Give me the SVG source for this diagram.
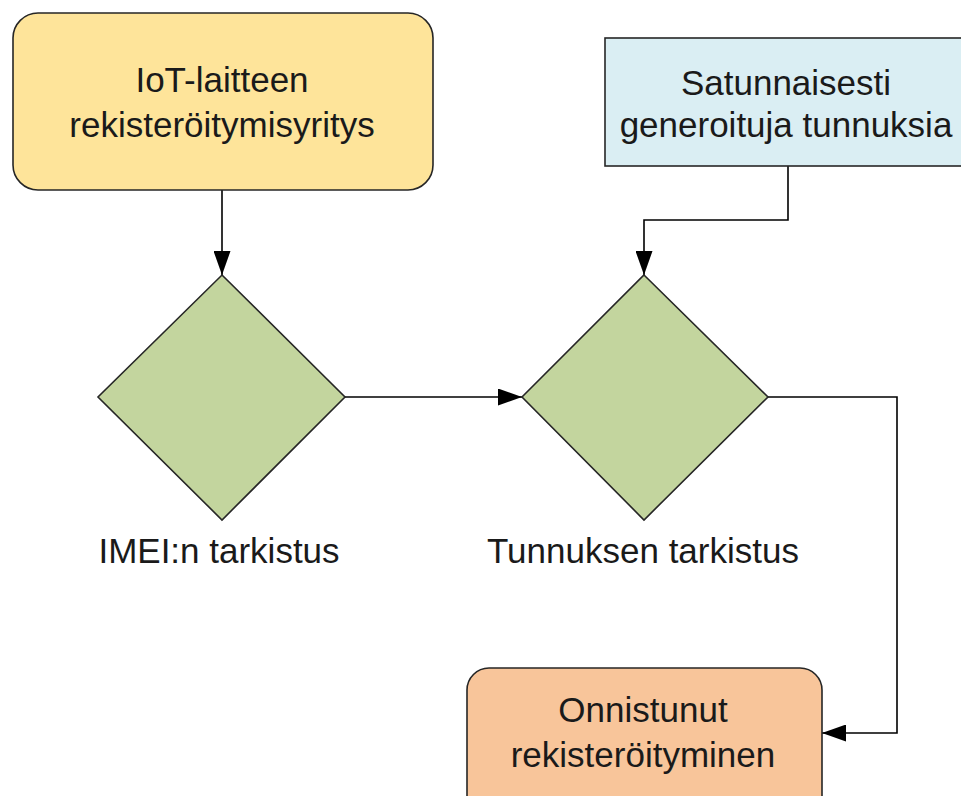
<svg xmlns="http://www.w3.org/2000/svg" width="961" height="796" viewBox="0 0 961 796">
  <defs>
    <style>
      .lbl { font-family: "Liberation Sans", Arial, sans-serif; font-size: 35px; fill: #1a1a1a; text-anchor: middle; }
      .shape { stroke: #262626; stroke-width: 1.6; }
      .conn { fill: none; stroke: #000; stroke-width: 1.6; }
    </style>
    <marker id="arrow" markerUnits="userSpaceOnUse" markerWidth="24" markerHeight="17" refX="24" refY="8.5" orient="auto">
      <path d="M0,0 L24,8.5 L0,17 z" fill="#000"/>
    </marker>
  </defs>
  <rect width="961" height="796" fill="#fff"/>

  <g id="connectors">
    <path class="conn" d="M222,190 V275" marker-end="url(#arrow)"/>
    <path class="conn" d="M788,166 V220 H644 V275" marker-end="url(#arrow)"/>
    <path class="conn" d="M345,397 H522" marker-end="url(#arrow)"/>
    <path class="conn" d="M768,397 H897 V733 H822" marker-end="url(#arrow)"/>
  </g>

  <g id="node-iot">
    <rect class="shape" x="13" y="13" width="420" height="177" rx="25" ry="25" fill="#FEE49A"/>
    <text class="lbl" x="222" y="92">IoT-laitteen</text>
    <text class="lbl" x="222" y="137">rekisteröitymisyritys</text>
  </g>

  <g id="node-random">
    <rect class="shape" x="605" y="38" width="380" height="128" fill="#DAEEF3"/>
    <text class="lbl" x="786" y="95">Satunnaisesti</text>
    <text class="lbl" x="786" y="137">generoituja tunnuksia</text>
  </g>

  <g id="node-imei">
    <polygon class="shape" points="222,275 345,397 222,520 98,397" fill="#C3D59E"/>
    <text class="lbl" x="219" y="563">IMEI:n tarkistus</text>
  </g>

  <g id="node-tunnus">
    <polygon class="shape" points="644,275 768,397 644,520 522,397" fill="#C3D59E"/>
    <text class="lbl" x="643" y="563">Tunnuksen tarkistus</text>
  </g>

  <g id="node-success">
    <rect class="shape" x="467" y="668" width="355" height="160" rx="22" ry="22" fill="#F8C59A"/>
    <text class="lbl" x="643" y="722">Onnistunut</text>
    <text class="lbl" x="643" y="767">rekisteröityminen</text>
  </g>
</svg>
